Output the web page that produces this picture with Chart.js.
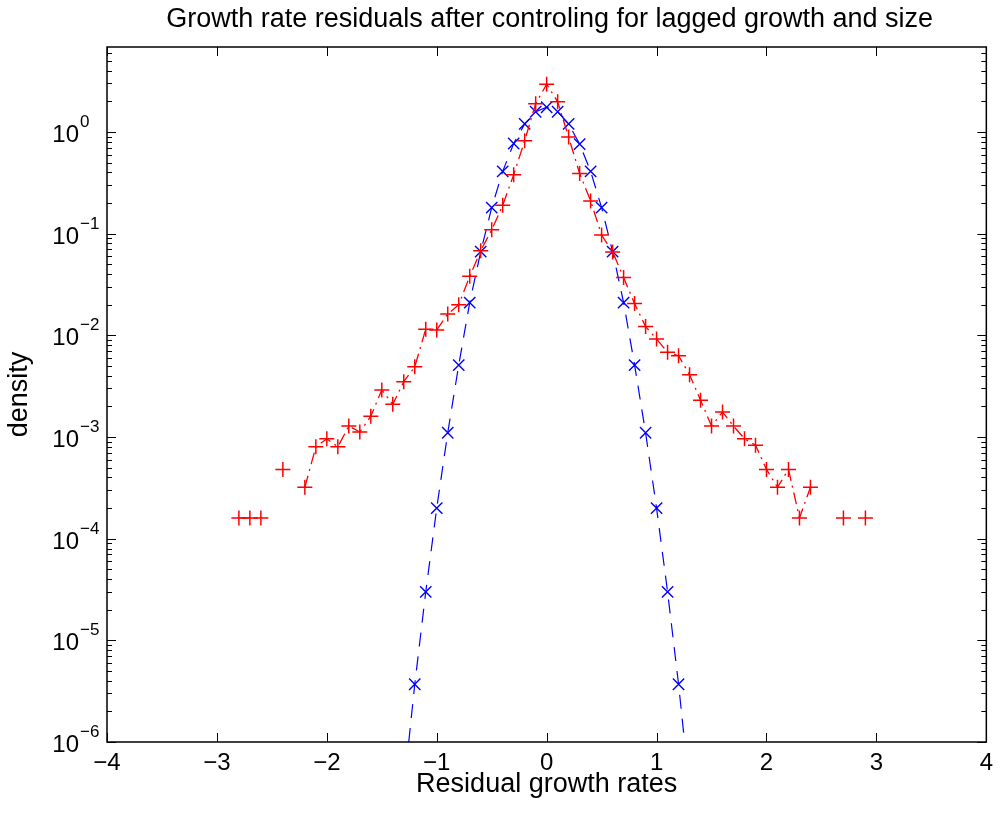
<!DOCTYPE html>
<html>
<head>
<meta charset="utf-8">
<script src="https://cdn.jsdelivr.net/npm/chart.js@4.4.1/dist/chart.umd.min.js"></script>
<style>
  html, body { margin:0; padding:0; background:#fff; }
  #wrap { width:1000px; height:814px; }
</style>
</head>
<body>
<div id="wrap"><canvas id="c" width="1000" height="814"></canvas></div>
<script>
/* ── Dados ─────────────────────────────────────────────── */
const tickX = [-4, -3, -2, -1, 0, 1, 2, 3, 4];
const tickY = [1e-6, 1e-5, 1e-4, 1e-3, 1e-2, 1e-1, 1];
const expoY = ['−6', '−5', '−4', '−3', '−2', '−1', '0'];

// empírico (+ vermelho)
const empX = [-2.8,-2.7,-2.6,-2.5,-2.4,-2.3,-2.2,-2.1,-2.0,-1.9,-1.8,-1.7,-1.6,-1.5,-1.4,-1.3,-1.2,-1.1,-1.0,-0.9,
              -0.8,-0.7,-0.6,-0.5,-0.4,-0.3,-0.2,-0.1,0,0.1,0.2,0.3,0.4,0.5,0.6,0.7,0.8,0.9,1.0,1.1,
              1.2,1.3,1.4,1.5,1.6,1.7,1.8,1.9,2.0,2.1,2.2,2.3,2.4,2.5,2.6,2.7,2.8,2.9];
const empY = [1.6e-4,1.6e-4,1.6e-4,null,4.8e-4,null,3.2e-4,8.0e-4,9.6e-4,8.0e-4,1.28e-3,1.12e-3,1.6e-3,2.9e-3,2.1e-3,3.5e-3,4.9e-3,1.15e-2,1.13e-2,1.62e-2,
              2.0e-2,3.8e-2,6.8e-2,0.109,0.19,0.38,0.82,1.9,2.95,1.98,0.89,0.39,0.21,0.097,0.066,0.037,0.0205,0.0122,9.2e-3,6.8e-3,
              6.3e-3,4.1e-3,2.3e-3,1.28e-3,1.76e-3,1.28e-3,9.6e-4,8.3e-4,4.8e-4,3.2e-4,4.8e-4,1.6e-4,3.2e-4,null,null,1.6e-4,null,1.6e-4];

// gaussiana (x azul)
const gaussX = [-1.3,-1.2,-1.1,-1.0,-0.9,-0.8,-0.7,-0.6,-0.5,-0.4,-0.3,-0.2,-0.1,0,
                0.1,0.2,0.3,0.4,0.5,0.6,0.7,0.8,0.9,1.0,1.1,1.2,1.3];
const gaussY = [3.4e-7,3.7e-6,3.0e-5,2.0e-4,1.1e-3,5.1e-3,0.021,0.0665,0.18,0.41,0.77,1.2,1.58,1.75,
                1.58,1.2,0.76,0.41,0.18,0.0665,0.021,5.1e-3,1.1e-3,2.0e-4,3.0e-5,3.7e-6,3.4e-7];

const TITULO = 'Growth rate residuals after controling for lagged growth and size';
const FONT = '"Liberation Sans", Arial, Helvetica, sans-serif';
const Y_MAX = 6.85;

// ── eixos estilo MATLAB (ticks para dentro, caixa, rótulos 10^n, título) ──
const eixosPlugin = {
  id: 'eixosMatlab',
  afterDatasetsDraw(chart) {
    const { ctx, chartArea: a, scales: { x, y } } = chart;
    ctx.save();
    ctx.strokeStyle = '#000';
    ctx.lineWidth = 1;
    const seg = (x1, y1, x2, y2) => { ctx.beginPath(); ctx.moveTo(x1, y1); ctx.lineTo(x2, y2); ctx.stroke(); };

    tickX.forEach(v => {
      const px = Math.round(x.getPixelForValue(v)) + 0.5;
      seg(px, a.bottom, px, a.bottom - 9);
      seg(px, a.top, px, a.top + 9);
    });
    tickY.forEach(v => {
      const py = Math.round(y.getPixelForValue(v)) + 0.5;
      seg(a.left, py, a.left + 9, py);
      seg(a.right, py, a.right - 9, py);
      for (let m = 2; m <= 9; m++) {
        const val = v * m;
        if (val > Y_MAX) break;
        const pm = Math.round(y.getPixelForValue(val)) + 0.5;
        seg(a.left, pm, a.left + 5, pm);
        seg(a.right, pm, a.right - 5, pm);
      }
    });

    ctx.lineWidth = 1.5;
    ctx.strokeRect(a.left, a.top, a.right - a.left, a.bottom - a.top);

    // rótulos 10^n
    ctx.fillStyle = '#000';
    ctx.textBaseline = 'alphabetic';
    tickY.forEach((v, i) => {
      const py = y.getPixelForValue(v);
      ctx.font = `24px ${FONT}`;
      ctx.textAlign = 'right';
      ctx.fillText('10', 79, py + 10);
      ctx.font = `17px ${FONT}`;
      ctx.textAlign = 'left';
      ctx.fillText(expoY[i], 80, py - 5);
    });

    // título centrado sobre os eixos
    ctx.font = `27px ${FONT}`;
    ctx.textAlign = 'center';
    ctx.fillText(TITULO, (a.left + a.right) / 2 + 3, 26.7);
    ctx.restore();
  }
};

new Chart(document.getElementById('c'), {
  type: 'line',
  data: {
    datasets: [
      {
        label: 'empírico',
        data: empX.map((v, i) => ({ x: v, y: empY[i] })),
        borderColor: '#ff0000', borderWidth: 1.3, borderDash: [12, 5, 2, 5],
        pointStyle: 'cross', pointRadius: 7.5, pointBorderColor: '#ff0000', pointBorderWidth: 1.5,
        fill: false, spanGaps: false, tension: 0,
      },
      {
        label: 'gaussiana',
        data: gaussX.map((v, i) => ({ x: v, y: gaussY[i] })),
        borderColor: '#0000ff', borderWidth: 1.2, borderDash: [14, 10],
        pointStyle: 'crossRot', pointRadius: 8, pointBorderColor: '#0000ff', pointBorderWidth: 1.4,
        fill: false, spanGaps: false, tension: 0,
      },
    ],
  },
  options: {
    responsive: false, animation: false, devicePixelRatio: 1,
    layout: { padding: { left: 0, right: 13, top: 47, bottom: 0 } },
    plugins: {
      legend: { display: false },
      tooltip: { enabled: false },
      title: { display: false },
    },
    scales: {
      x: {
        type: 'linear', min: -4, max: 4,
        afterBuildTicks: s => { s.ticks = tickX.map(v => ({ value: v })); },
        ticks: {
          callback: v => v < 0 ? '−' + Math.abs(v) : String(v),
          color: '#000', font: { family: FONT, size: 24 }, padding: 7, maxRotation: 0, autoSkip: false,
        },
        grid: { display: false, drawTicks: false },
        border: { display: false },
        title: { display: true, text: 'Residual growth rates', color: '#000',
                 font: { family: FONT, size: 27 }, padding: { top: 0, bottom: 13 } },
        afterFit: s => { s.height = 72; },
      },
      y: {
        type: 'logarithmic', min: 1e-6, max: Y_MAX,
        ticks: { display: false },
        grid: { display: false, drawTicks: false },
        border: { display: false },
        title: { display: true, text: 'density', color: '#000',
                 font: { family: FONT, size: 27 }, padding: { top: 3.7, bottom: 0 } },
        afterFit: s => { s.width = 107; },
      },
    },
  },
  plugins: [eixosPlugin],
});
</script>
</body>
</html>
